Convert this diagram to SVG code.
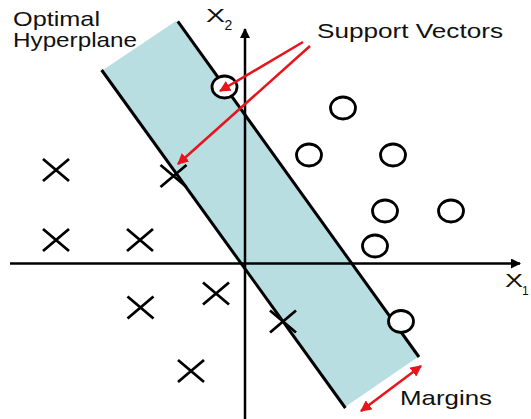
<svg xmlns="http://www.w3.org/2000/svg" width="531" height="419" viewBox="0 0 531 419">
<defs>
<marker id="ah" viewBox="0 0 10 10" refX="9" refY="5" markerWidth="4" markerHeight="4" orient="auto-start-reverse" markerUnits="strokeWidth"><path d="M0,0 L10,5 L0,10 z" fill="#000"/></marker>
<marker id="rh" viewBox="0 0 10 10" refX="9" refY="5" markerWidth="4.5" markerHeight="4.5" orient="auto-start-reverse" markerUnits="strokeWidth"><path d="M0,0 L10,5 L0,10 z" fill="#e8141c"/></marker>
<style>
.t{font-family:"Liberation Sans",Arial,sans-serif;fill:#111;}
.ln{stroke:#000;stroke-width:3;fill:none;}
.ax{stroke:#000;stroke-width:2.5;fill:none;}
.red{stroke:#e8141c;stroke-width:2.5;fill:none;}
.c{fill:#fff;stroke:#000;stroke-width:2.8;}
.x{stroke:#000;stroke-width:2.8;fill:none;}
</style>
</defs>
<rect width="531" height="419" fill="#fff"/>
<g id="band">
<polygon points="103,70 176,21 418,357 345,407" fill="#b8dee2"/>
<line class="ln" x1="101.6" y1="70" x2="345.4" y2="408"/>
<line class="ln" x1="177.8" y1="21.3" x2="419" y2="357"/>
</g>
<g id="axes">
<line class="ax" x1="245" y1="419" x2="245" y2="29" marker-end="url(#ah)"/>
<line class="ax" x1="10" y1="263.5" x2="520" y2="263.5" marker-end="url(#ah)"/>
</g>
<g id="circles">
<ellipse class="c" cx="224.5" cy="87" rx="12.5" ry="11"/>
<ellipse class="c" cx="343" cy="108" rx="12.5" ry="11"/>
<ellipse class="c" cx="309" cy="155" rx="12.5" ry="11"/>
<ellipse class="c" cx="393" cy="155" rx="12.5" ry="11"/>
<ellipse class="c" cx="385" cy="211" rx="12.5" ry="11"/>
<ellipse class="c" cx="451" cy="211" rx="12.5" ry="11"/>
<ellipse class="c" cx="375" cy="246" rx="12.5" ry="11"/>
<ellipse class="c" cx="401" cy="321.5" rx="12.5" ry="11"/>
</g>
<g id="crosses">
<path class="x" d="M43,159 L69,181 M43,181 L69,159"/>
<path class="x" d="M160.5,165 L186.5,187 M160.5,187 L186.5,165"/>
<path class="x" d="M43,229 L69,251 M43,251 L69,229"/>
<path class="x" d="M127,229 L153,251 M127,251 L153,229"/>
<path class="x" d="M127.5,296.5 L153.5,318.5 M127.5,318.5 L153.5,296.5"/>
<path class="x" d="M203,282.5 L229,304.5 M203,304.5 L229,282.5"/>
<path class="x" d="M270,310.5 L296,332.5 M270,332.5 L296,310.5"/>
<path class="x" d="M178,360 L204,382 M178,382 L204,360"/>
</g>
<g id="connectors">
<line class="red" x1="303" y1="42" x2="220" y2="91" marker-end="url(#rh)"/>
<line class="red" x1="310" y1="46" x2="178" y2="164" marker-end="url(#rh)"/>
<line class="red" x1="361" y1="411" x2="421" y2="366" marker-start="url(#rh)" marker-end="url(#rh)"/>
</g>
<g id="labels">
<text class="t" x="13" y="26" font-size="21" textLength="87" lengthAdjust="spacingAndGlyphs">Optimal</text>
<text class="t" x="13" y="47" font-size="21" textLength="124" lengthAdjust="spacingAndGlyphs">Hyperplane</text>
<text class="t" x="317" y="38" font-size="21" textLength="186" lengthAdjust="spacingAndGlyphs">Support Vectors</text>
<text class="t" x="400" y="405" font-size="21" textLength="92" lengthAdjust="spacingAndGlyphs">Margins</text>
<text class="t" x="206" y="22" font-size="18" textLength="19" lengthAdjust="spacingAndGlyphs">X</text>
<text class="t" x="224.5" y="30" font-size="14">2</text>
<text class="t" x="505" y="287" font-size="18" textLength="18" lengthAdjust="spacingAndGlyphs">X</text>
<text class="t" x="522" y="294.5" font-size="12">1</text>
</g>
</svg>
